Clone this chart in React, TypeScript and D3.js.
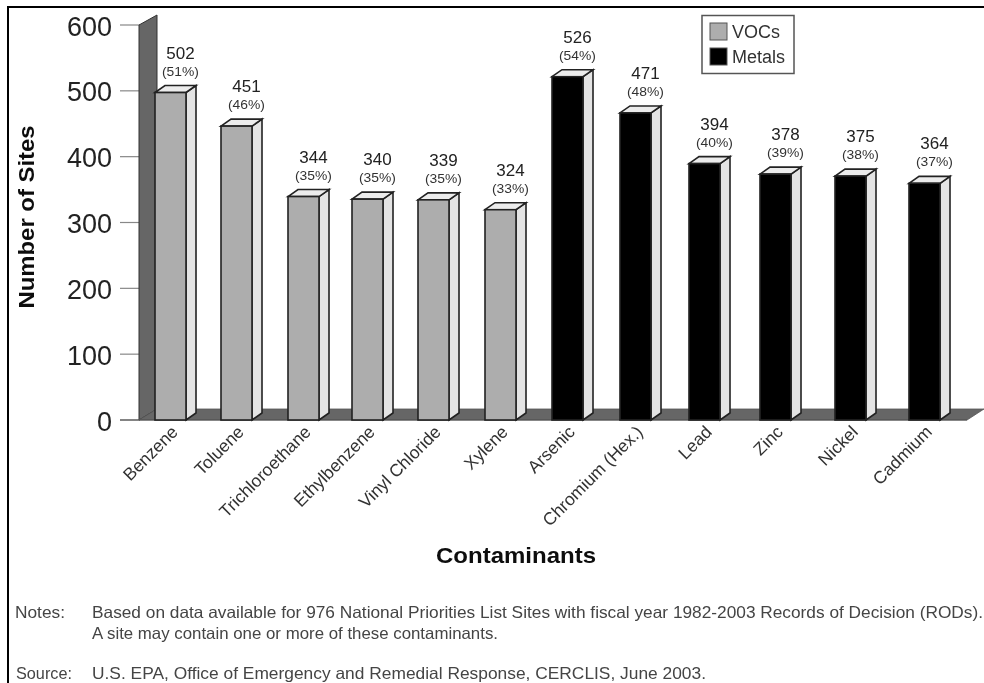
import React from "react";
import * as d3 from "d3";

const categories = ["Benzene","Toluene","Trichloroethane","Ethylbenzene","Vinyl Chloride","Xylene","Arsenic","Chromium (Hex.)","Lead","Zinc","Nickel","Cadmium"];
const siteCounts = [502,451,344,340,339,324,526,471,394,378,375,364];
const percents = ["(51%)","(46%)","(35%)","(35%)","(35%)","(33%)","(54%)","(48%)","(40%)","(39%)","(38%)","(37%)"];
const groups = ["VOCs","VOCs","VOCs","VOCs","VOCs","VOCs","Metals","Metals","Metals","Metals","Metals","Metals"];
const yTicks = [0,100,200,300,400,500,600];
const legendItems = ["VOCs","Metals"];
const barLefts = [155,221,288,352,418,485,552,620,689,760,835,909];

const W = 984, H = 683;
const y = d3.scaleLinear().domain([0,600]).range([420,25]);
const xLeft = d3.scaleOrdinal<string,number>().domain(categories).range(barLefts);
const fill = d3.scaleOrdinal<string,string>().domain(legendItems).range(["#adadad","#000000"]);
const font = "'Liberation Sans', Arial, sans-serif";
const barW = 31, sideX = 10, sideY = 7, topShift = 3;
const wallDx = 18, wallDy = 11;
const poly = (pts: number[][]) => d3.line()(pts as [number,number][]) + "Z";

export default function App() {
  const y0 = y(0);
  return (
    <svg width={W} height={H} viewBox={`0 0 ${W} ${H}`} style={{position:"absolute",left:0,top:0,background:"#fff"}} fontFamily={font}>
      <defs><filter id="soft" x="-5%" y="-5%" width="110%" height="110%"><feGaussianBlur stdDeviation="0.55"/></filter></defs>
      <g filter="url(#soft)">
        <path d={`M8 683V7H984`} fill="none" stroke="#000" strokeWidth={2}/>
        {yTicks.map(t => (
          <g key={t}>
            <line x1={120} x2={140} y1={y(t)} y2={y(t)} stroke="#888" strokeWidth={1.2}/>
            <text x={112} y={y(t)+10.5} textAnchor="end" fontSize={27} fill="#222">{t}</text>
          </g>
        ))}
        <path d={poly([[139,y0],[139+wallDx,y0-wallDy],[139+wallDx,y(600)-wallDy+1],[139,y(600)]])} fill="#666" stroke="#333" strokeWidth={1}/>
        <path d={poly([[139,y0],[139+wallDx,y0-wallDy],[984,y0-wallDy],[967,y0]])} fill="#666" stroke="#555" strokeWidth={0.8}/>
        <line x1={120} x2={967} y1={y0} y2={y0} stroke="#555" strokeWidth={1.2}/>
        {categories.map((c,i) => {
          const x0 = xLeft(c), top = y(siteCounts[i]) + topShift, cx = x0 + barW/2 + 10;
          const col = fill(groups[i]);
          return (
            <g key={c}>
              <path d={poly([[x0+barW,y0],[x0+barW+sideX,y0-sideY],[x0+barW+sideX,top-sideY],[x0+barW,top]])} fill="#e4e4e4" stroke="#222" strokeWidth={1.6}/>
              <path d={poly([[x0,top],[x0+sideX,top-sideY],[x0+barW+sideX,top-sideY],[x0+barW,top]])} fill="#ececec" stroke="#222" strokeWidth={1.6}/>
              <rect x={x0} y={top} width={barW} height={y0-top} fill={col} stroke="#222" strokeWidth={1.6}/>
              <text x={cx} y={top-34} textAnchor="middle" fontSize={17} fill="#222">{siteCounts[i]}</text>
              <text x={cx} y={top-17} textAnchor="middle" fontSize={13} fill="#333" textLength={37} lengthAdjust="spacingAndGlyphs">{percents[i]}</text>
              <text transform={`translate(${x0+24},${y0+13}) rotate(-45)`} textAnchor="end" fontSize={17.5} fill="#333">{c}</text>
            </g>
          );
        })}
        <text transform="translate(34,217) rotate(-90)" textAnchor="middle" fontSize={21.5} fontWeight="bold" fill="#111" textLength={183} lengthAdjust="spacingAndGlyphs">Number of Sites</text>
        <text x={516} y={563} textAnchor="middle" fontSize={22} fontWeight="bold" fill="#111" textLength={160} lengthAdjust="spacingAndGlyphs">Contaminants</text>
        <rect x={702} y={15.5} width={92} height={58} fill="#fff" stroke="#555" strokeWidth={1.5}/>
        {legendItems.map((l,i) => (
          <g key={l}>
            <rect x={710} y={23+i*25} width={17} height={17} fill={fill(l)} stroke="#555" strokeWidth={1}/>
            <text x={732} y={38+i*25} fontSize={18} fill="#333">{l}</text>
          </g>
        ))}
        <g fontSize={16.5} fill="#444">
          <text x={15} y={618} textLength={50} lengthAdjust="spacingAndGlyphs">Notes:</text>
          <text x={92} y={618} textLength={891} lengthAdjust="spacingAndGlyphs">Based on data available for 976 National Priorities List Sites with fiscal year 1982-2003 Records of Decision (RODs).</text>
          <text x={92} y={639} textLength={406} lengthAdjust="spacingAndGlyphs">A site may contain one or more of these contaminants.</text>
          <text x={16} y={679} textLength={56} lengthAdjust="spacingAndGlyphs">Source:</text>
          <text x={92} y={679} textLength={614} lengthAdjust="spacingAndGlyphs">U.S. EPA, Office of Emergency and Remedial Response, CERCLIS, June 2003.</text>
        </g>
      </g>
    </svg>
  );
}
